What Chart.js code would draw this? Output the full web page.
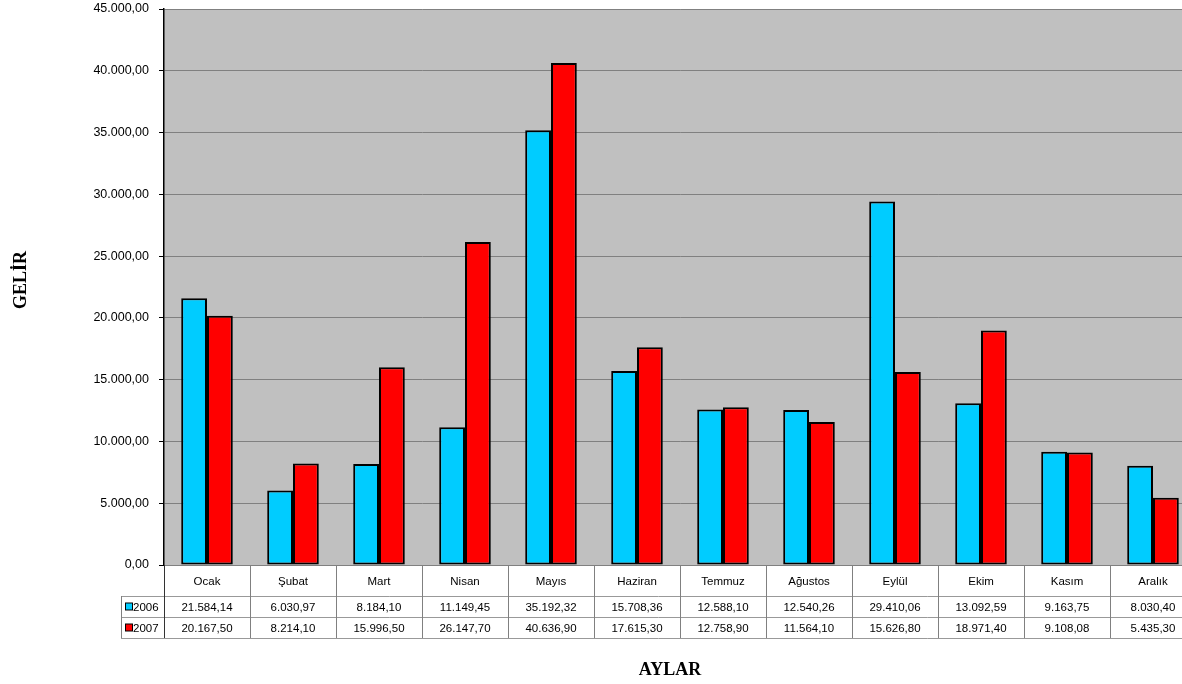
<!DOCTYPE html>
<html>
<head>
<meta charset="utf-8">
<script src="https://cdn.jsdelivr.net/npm/chart.js@4"></script>
<style>
  html, body { margin: 0; padding: 0; background: #fff; overflow: hidden; }
  #wrap { width: 1200px; height: 684px; }
</style>
</head>
<body>
<div id="wrap"><canvas id="gelirChart"></canvas></div>
<script>
const months = ['Ocak', 'Şubat', 'Mart', 'Nisan', 'Mayıs', 'Haziran', 'Temmuz', 'Ağustos', 'Eylül', 'Ekim', 'Kasım', 'Aralık'];
const gelir2006 = [21584.14, 6030.97, 8184.10, 11149.45, 35192.32, 15708.36, 12588.10, 12540.26, 29410.06, 13092.59, 9163.75, 8030.40];
const gelir2007 = [20167.50, 8214.10, 15996.50, 26147.70, 40636.90, 17615.30, 12758.90, 11564.10, 15626.80, 18971.40, 9108.08, 5435.30];
const seriesNames = ['2006', '2007'];
const seriesColors = ['#00ccff', '#ff0000'];

const FONT = 'Liberation Sans, Arial, sans-serif';

function formatTR(v) {
    let parts = v.toFixed(2).split('.');
    let intPart = parts[0].replace(/\B(?=(\d{3})+(?!\d))/g, '.');
    return intPart + ',' + parts[1];
}

// gray plot area behind the bars
const plotBackground = {
    id: 'plotBackground',
    beforeDraw(chart) {
        let a = chart.chartArea, ctx = chart.ctx;
        ctx.save();
        ctx.fillStyle = '#c0c0c0';
        ctx.fillRect(a.left, a.top, a.right - a.left, a.bottom - a.top);
        ctx.restore();
    }
};

// Excel style data table under the plot plus axis titles
const dataTable = {
    id: 'dataTable',
    afterDraw(chart) {
        let a = chart.chartArea, ctx = chart.ctx;
        let x = chart.scales.x;
        let colW = (a.right - a.left) / months.length;
        let headTop = a.bottom, headBot = a.bottom + 31;
        let row1Bot = headBot + 21, row2Bot = row1Bot + 21;
        let keyLeft = a.left - 43;
        let rows = [gelir2006, gelir2007];

        ctx.save();
        ctx.lineWidth = 1;

        // horizontal lines
        ctx.strokeStyle = '#999';
        [headBot, row1Bot, row2Bot].forEach(y => {
            ctx.beginPath();
            ctx.moveTo(keyLeft, y + 0.5);
            ctx.lineTo(a.right, y + 0.5);
            ctx.stroke();
        });

        // vertical lines
        ctx.strokeStyle = '#808080';
        for (let i = 1; i <= months.length; i++) {
            let xx = Math.round(a.left + i * colW) + 0.5;
            ctx.beginPath();
            ctx.moveTo(xx, headTop);
            ctx.lineTo(xx, row2Bot);
            ctx.stroke();
        }
        ctx.beginPath();
        ctx.moveTo(keyLeft + 0.5, headBot);
        ctx.lineTo(keyLeft + 0.5, row2Bot);
        ctx.stroke();
        ctx.strokeStyle = '#333';
        ctx.beginPath();
        ctx.moveTo(a.left + 0.5, headTop);
        ctx.lineTo(a.left + 0.5, row2Bot);
        ctx.stroke();

        // text
        ctx.fillStyle = '#000';
        ctx.font = '11.5px ' + FONT;
        ctx.textAlign = 'center';
        ctx.textBaseline = 'middle';
        months.forEach((m, i) => {
            let cx = x.getPixelForValue(i);
            ctx.fillText(m, cx, (headTop + headBot) / 2 + 1);
            ctx.fillText(formatTR(rows[0][i]), cx, (headBot + row1Bot) / 2 + 1);
            ctx.fillText(formatTR(rows[1][i]), cx, (row1Bot + row2Bot) / 2 + 1);
        });

        // legend keys
        ctx.textAlign = 'left';
        [[headBot, row1Bot], [row1Bot, row2Bot]].forEach((r, k) => {
            let cy = (r[0] + r[1]) / 2;
            ctx.fillStyle = seriesColors[k];
            ctx.fillRect(keyLeft + 4.5, cy - 3.5, 7, 7);
            ctx.strokeStyle = '#000';
            ctx.strokeRect(keyLeft + 4.5, cy - 3.5, 7, 7);
            ctx.fillStyle = '#000';
            ctx.fillText(seriesNames[k], keyLeft + 12, cy + 1);
        });

        // axis titles
        ctx.font = 'bold 18px Liberation Serif, Times New Roman, serif';
        ctx.textAlign = 'center';
        ctx.fillText('AYLAR', 670, 670);
        ctx.translate(21, 280);
        ctx.rotate(-Math.PI / 2);
        ctx.fillText('GELİR', 0, 0);
        ctx.restore();
    }
};

new Chart(document.getElementById('gelirChart'), {
    type: 'bar',
    data: {
        labels: months,
        datasets: [{
            label: seriesNames[0],
            data: gelir2006,
            backgroundColor: seriesColors[0],
            borderColor: '#000',
            borderWidth: 2,
            borderSkipped: false
        }, {
            label: seriesNames[1],
            data: gelir2007,
            backgroundColor: seriesColors[1],
            borderColor: '#000',
            borderWidth: 2,
            borderSkipped: false
        }]
    },
    options: {
        responsive: true,
        maintainAspectRatio: false,
        animation: false,
        categoryPercentage: 0.6,
        barPercentage: 1,
        layout: {
            padding: { left: 0, right: 4, top: 9, bottom: 119 }
        },
        scales: {
            x: {
                display: false
            },
            y: {
                min: 0,
                max: 45000,
                afterFit(scale) {
                    scale.width = 164;
                    scale.paddingTop = 0;
                    scale.paddingBottom = 0;
                },
                ticks: {
                    stepSize: 5000,
                    color: '#000',
                    font: { family: FONT, size: 12.5 },
                    padding: 10,
                    callback: v => formatTR(v)
                },
                grid: {
                    color: '#808080',
                    tickLength: 5,
                    tickColor: '#000'
                },
                border: {
                    color: '#000',
                    width: 1.5
                }
            }
        },
        plugins: {
            legend: { display: false },
            tooltip: { enabled: false }
        }
    },
    plugins: [plotBackground, dataTable]
});
</script>
</body>
</html>
